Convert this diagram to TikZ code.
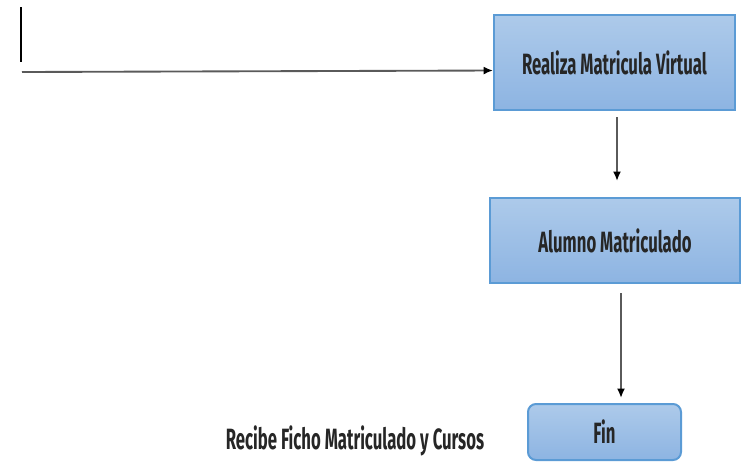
\documentclass[tikz,border=0pt]{standalone}
\usepackage{fontspec}
\usetikzlibrary{arrows.meta}
\newfontfamily\labelfont[FakeStretch=0.57]{Fira Sans}
\definecolor{boxtop}{HTML}{ADCAEA}
\definecolor{boxbottom}{HTML}{8DB4E2}
\definecolor{boxedge}{HTML}{5B9BD5}
\definecolor{linegray}{HTML}{5A5A5A}
\begin{document}
\begin{tikzpicture}[x=0.75pt,y=-0.75pt,
  stepbox/.style={draw=boxedge,line width=1.5pt,top color=boxtop,bottom color=boxbottom,
    font=\labelfont\bfseries\fontsize{22}{24}\selectfont,text=black!85,inner sep=0pt},
  flow/.style={draw=linegray,line width=1.4pt,-{Latex[length=7pt,width=6pt,black]}},
  plain/.style={font=\labelfont\bfseries\fontsize{22}{24}\selectfont,text=black!85,inner sep=0pt}]
\useasboundingbox (0,0) rectangle (742,462);

% process boxes
\node[stepbox,minimum width=241*0.75pt,minimum height=95*0.75pt] (real) at (614.5,62.5) {Realiza Matricula Virtual};
\node[stepbox,minimum width=250*0.75pt,minimum height=85*0.75pt] (alum) at (615,240.5) {Alumno Matriculado};
\node[stepbox,rounded corners=6pt,minimum width=153*0.75pt,minimum height=56*0.75pt] (fin) at (604.5,432) {Fin};
\node[plain] (recibe) at (355,441) {Recibe Ficho Matriculado y Cursos};

% free ends of the connectors
\coordinate (barTop) at (21,7);
\coordinate (barBot) at (21,62);
\coordinate (start) at (22,72);
\coordinate (a1) at (617,117);
\coordinate (b1) at (617,181);
\coordinate (a2) at (621,293);
\coordinate (b2) at (621,398);

\draw[black,line width=2.2pt] (barTop) -- (barBot);
\draw[flow] (start) -- (real.west |- 0,70.5);
\draw[flow] (a1) -- (b1);
\draw[flow] (a2) -- (b2);
\end{tikzpicture}
\end{document}
